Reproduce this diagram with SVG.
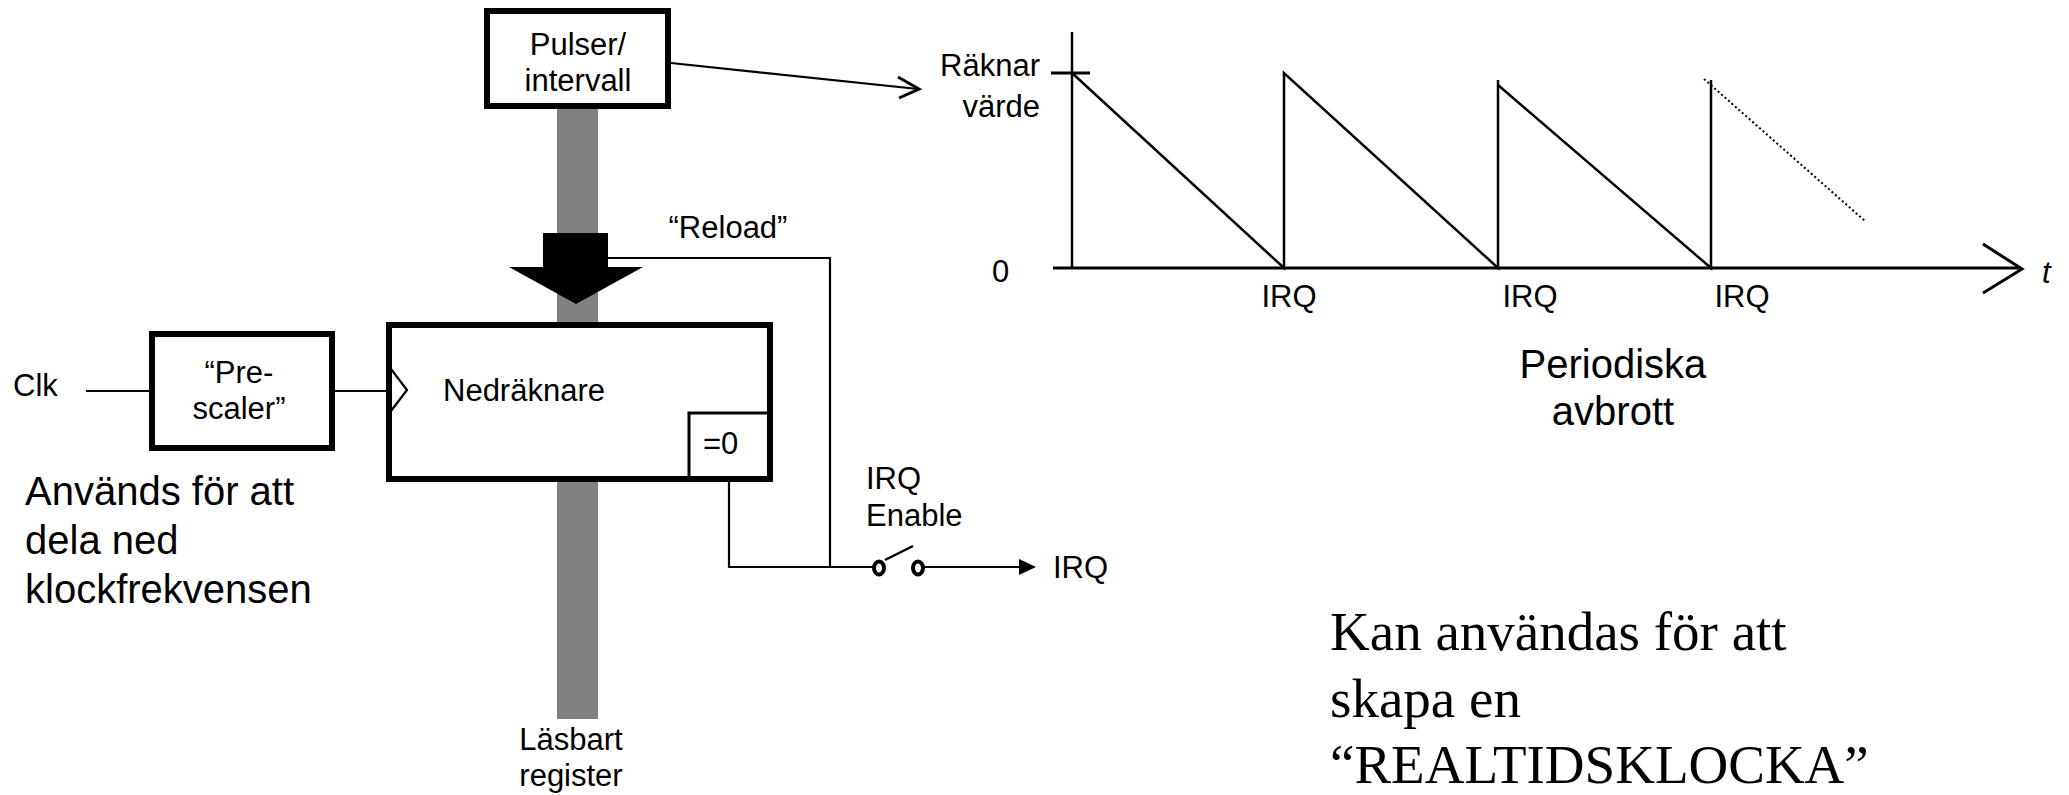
<svg xmlns="http://www.w3.org/2000/svg" width="2069" height="795" viewBox="0 0 2069 795">
<style>
.t{font-family:"Liberation Sans",Arial,sans-serif;font-size:31px;fill:#000}
.big{font-family:"Liberation Sans",Arial,sans-serif;font-size:40px;fill:#000}
.serif{font-family:"Liberation Serif","Times New Roman",serif;font-size:55px;fill:#000}
.box{fill:#fff;stroke:#000;stroke-width:6}
.w{fill:none;stroke:#000;stroke-width:2.2}
.ax{fill:none;stroke:#000;stroke-width:3}
.c{text-anchor:middle}
.e{text-anchor:end}
</style>
<rect width="2069" height="795" fill="#fff"/>
<g id="bus"><rect x="557" y="106" width="41" height="613" fill="#808080"/></g>
<g id="pulser">
<rect class="box" x="487" y="11" width="181" height="95"/>
<text class="t c" x="578" y="55">Pulser/</text>
<text class="t c" x="578" y="91">intervall</text>
</g>
<g id="prescaler">
<rect class="box" x="152" y="334" width="180" height="114"/>
<text class="t c" x="239" y="383">“Pre-</text>
<text class="t c" x="239" y="419">scaler”</text>
</g>
<g id="nedraknare">
<rect class="box" x="389" y="325" width="381" height="154"/>
<polyline class="w" points="391,369 407,390 391,411"/>
<text class="t" x="443" y="401">Nedräknare</text>
<polyline fill="none" stroke="#000" stroke-width="3" points="689,477 689,413 768,413"/>
<text class="t" x="703" y="454">=0</text>
</g>
<g id="load-arrow"><polygon points="543,233 608,233 608,267 643,267 576,304 509,267 543,267" fill="#000"/></g>
<g id="connectors">
<line class="w" x1="86" y1="391" x2="152" y2="391"/>
<line class="w" x1="332" y1="391" x2="389" y2="391"/>
<polyline class="w" points="608,258 830,258 830,567"/>
<polyline class="w" points="729,482 729,567 873,567"/>
<line class="w" x1="924" y1="567" x2="1020" y2="567"/>
<polygon points="1019,559 1036,567 1019,575" fill="#000"/>
<line class="w" x1="671" y1="63" x2="918" y2="89"/>
<polyline class="ax" points="898,77 919,89 899,98"/>
</g>
<g id="switch">
<ellipse cx="879" cy="568" rx="5" ry="6.5" fill="none" stroke="#000" stroke-width="4"/>
<ellipse cx="918" cy="568" rx="5" ry="6.5" fill="none" stroke="#000" stroke-width="4"/>
<line x1="885" y1="560" x2="913" y2="546" stroke="#000" stroke-width="2.5"/>
</g>
<g id="chart">
<line x1="1072" y1="32" x2="1072" y2="268" stroke="#000" stroke-width="2.5"/>
<line class="ax" x1="1051" y1="73" x2="1090" y2="73"/>
<line class="ax" x1="1053" y1="268" x2="2021" y2="268"/>
<polyline class="ax" points="1983,244 2022,269 1983,293"/>
<polyline fill="none" stroke="#000" stroke-width="2.5" points="1072,73 1284,268 1284,73 1498,268 1498,80"/>
<polyline fill="none" stroke="#000" stroke-width="2.5" points="1498,85 1711,268 1711,80"/>
<line x1="1704" y1="79" x2="1865" y2="221" stroke="#000" stroke-width="2" stroke-dasharray="2,2.6"/>
<text class="t e" x="1040" y="76">Räknar</text>
<text class="t e" x="1040" y="117">värde</text>
<text class="t" x="992" y="282">0</text>
<text class="t" x="2042" y="283" font-style="italic">t</text>
<text class="t c" x="1289" y="307">IRQ</text>
<text class="t c" x="1530" y="307">IRQ</text>
<text class="t c" x="1742" y="307">IRQ</text>
<text class="big c" x="1613" y="378">Periodiska</text>
<text class="big c" x="1613" y="425">avbrott</text>
</g>
<g id="labels">
<text class="t" x="13" y="396">Clk</text>
<text class="t c" x="728" y="238">“Reload”</text>
<text class="t" x="866" y="489">IRQ</text>
<text class="t" x="866" y="526">Enable</text>
<text class="t" x="1053" y="578">IRQ</text>
<text class="t c" x="571" y="750">Läsbart</text>
<text class="t c" x="571" y="786">register</text>
<text class="big" x="25" y="505">Används för att</text>
<text class="big" x="25" y="554">dela ned</text>
<text class="big" x="25" y="603">klockfrekvensen</text>
<text class="serif" x="1330" y="650">Kan användas för att</text>
<text class="serif" x="1330" y="717">skapa en</text>
<text class="serif" x="1330" y="783">“REALTIDSKLOCKA”</text>
</g>
</svg>
